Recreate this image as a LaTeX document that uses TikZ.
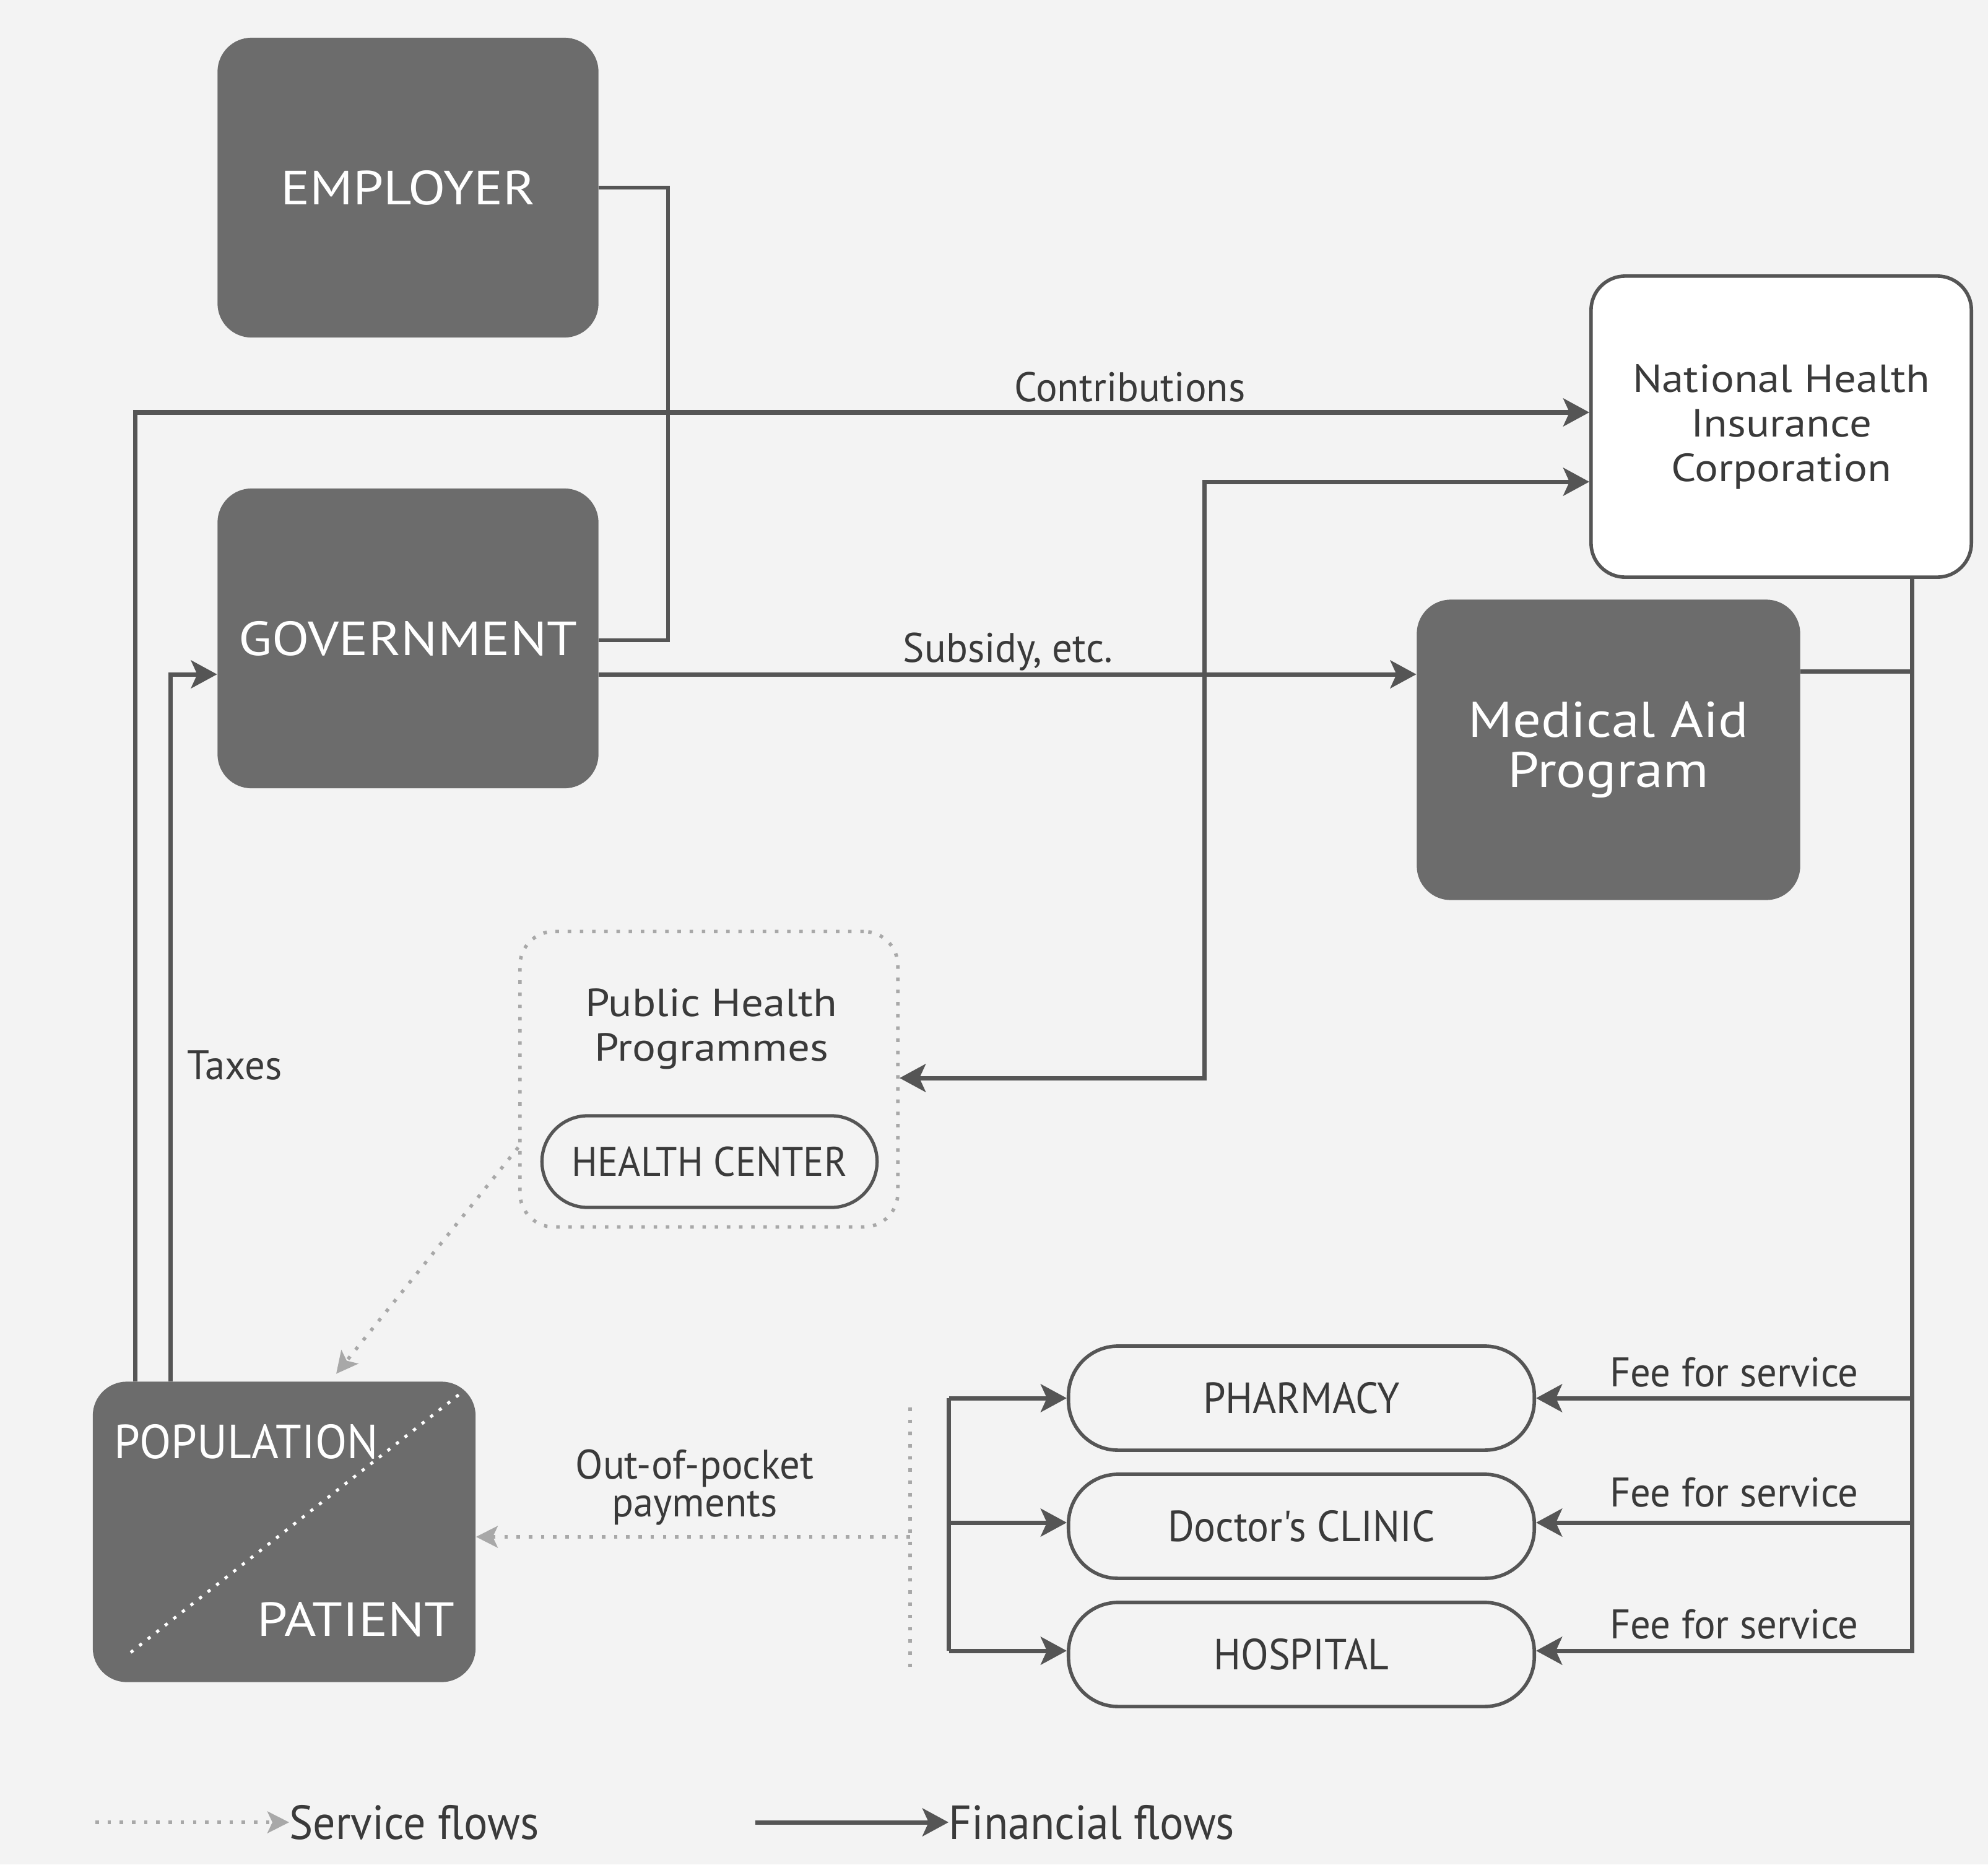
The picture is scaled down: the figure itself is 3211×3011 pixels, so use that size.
\documentclass[tikz,border=0pt]{standalone}
\usepackage{fontspec}
\setmainfont{PT Sans}
\newfontfamily\cf[FakeStretch=0.97]{PT Sans}
\newfontfamily\pf[FakeStretch=0.93]{PT Sans}
\newfontfamily\wf[FakeStretch=1.14]{PT Sans}
\newfontfamily\nf[FakeStretch=1.12]{PT Sans}
\usetikzlibrary{arrows.meta,calc}
\definecolor{bg}{HTML}{F3F3F3}
\definecolor{boxfill}{HTML}{6C6C6C}
\definecolor{ln}{HTML}{555555}
\definecolor{txt}{HTML}{3A3A3A}
\definecolor{svcc}{HTML}{A8A8A8}
\begin{document}
\begin{tikzpicture}[x=0.01cm,y=-0.01cm,
  darkbox/.style={fill=boxfill, rounded corners=0.55cm, minimum width=6.15cm, minimum height=4.84cm, text=white, align=center, inner sep=0pt, font=\wf\fontsize{22}{26}\selectfont},
  whitebox/.style={draw=ln, line width=1.6pt, fill=white, rounded corners=0.55cm, align=center, text=txt, inner sep=0pt},
  provider/.style={draw=ln, line width=1.6pt, rounded corners=0.8cm, minimum width=7.52cm, minimum height=1.68cm, text=txt, inner sep=0pt, font=\pf\fontsize{20}{22}\selectfont},
  lbl/.style={text=txt, inner sep=0pt, font=\cf\fontsize{19}{20}\selectfont, align=center},
  fin/.style={draw=ln, line width=2pt, -{Stealth[length=0.42cm,width=0.45cm,inset=0.1cm]}},
  finboth/.style={draw=ln, line width=2pt, {Stealth[length=0.42cm,width=0.45cm,inset=0.1cm]}-{Stealth[length=0.42cm,width=0.45cm,inset=0.1cm]}},
  plain/.style={draw=ln, line width=2pt},
  svc/.style={draw=svcc, line width=1.6pt, dash pattern=on 1.6pt off 4pt, -{Stealth[length=0.35cm,width=0.35cm,inset=0.08cm]}},
  svcline/.style={draw=svcc, line width=1.6pt, dash pattern=on 1.6pt off 4pt}
]
\fill[bg] (0,0) rectangle (3211,3011);
\useasboundingbox (0,0) rectangle (3211,3011);

% main boxes
\node[darkbox] (emp) at (659,303) {EMPLOYER};
\node[darkbox] (gov) at (659,1031) {GOVERNMENT};
\node[whitebox, minimum width=6.14cm, minimum height=4.86cm, font=\nf\fontsize{18}{20.5}\selectfont] (nhic) at (2877,689) {National Health\\Insurance\\Corporation};
\node[darkbox, minimum width=6.19cm, minimum height=4.85cm, font=\nf\fontsize{23}{23}\selectfont] (mad) at (2598,1211) {Medical Aid\\Program};

% public health programmes
\node[draw=svcc, line width=1.6pt, dash pattern=on 1.6pt off 4pt, rounded corners=0.55cm, minimum width=6.10cm, minimum height=4.77cm] (php) at (1145,1743) {};
\node[lbl, font=\nf\fontsize{18}{20.5}\selectfont] (phpt) at (1149,1662) {Public Health\\Programmes};
\node[draw=ln, line width=1.5pt, rounded corners=0.74cm, minimum width=5.41cm, minimum height=1.48cm, text=txt, inner sep=0pt, font=\pf\fontsize{19}{20}\selectfont] (hc) at (1146,1876) {HEALTH CENTER};

% population
\node[darkbox, minimum width=6.18cm, minimum height=4.85cm] (pop) at (459,2474) {};
\draw[white, line width=1.4pt, dash pattern=on 1.5pt off 3.5pt] ($(pop.south west)!0.1!(pop.north east)$) -- ($(pop.south west)!0.96!(pop.north east)$);
\node[text=white, inner sep=0pt, font=\cf\fontsize{22}{23}\selectfont] (popt) at (398,2328) {POPULATION};
\node[text=white, inner sep=0pt, font=\wf\fontsize{22}{23}\selectfont] (patt) at (575,2615) {PATIENT};

% providers
\node[provider] (pharm) at (2102,2258) {PHARMACY};
\node[provider] (clinic) at (2102,2465) {Doctor's CLINIC};
\node[provider] (hosp) at (2102,2672) {HOSPITAL};

% employer / government bracket
\coordinate (gb) at ([yshift=-0.03cm]gov.east);
\coordinate (brk) at (1079,303);
\draw[plain, line width=1.6pt] (emp.east) -- (brk) |- (gb);

% contributions
\coordinate (cx) at ([xshift=0.69cm]pop.north west);
\coordinate (cn) at ([yshift=0.23cm]nhic.west);
\draw[fin] (cx) |- (cn);
\node[lbl] (contl) at (1825,625) {Contributions};

% NHIC <-> public health programmes
\coordinate (nh2) at ([yshift=-0.89cm]nhic.west);
\coordinate (j2) at (1945,1741);
\draw[finboth] (nh2) -| (j2) -- (php.east |- j2);

% subsidy
\coordinate (gs) at ([yshift=-0.58cm]gov.east);
\draw[fin] (gs) -- (gs -| mad.west);
\node[lbl] (subl) at (1628,1053) {Subsidy, etc.};

% taxes
\coordinate (tx) at ([xshift=1.26cm]pop.north west);
\coordinate (ts) at ([yshift=-0.58cm]gov.west);
\draw[fin] (tx) |- (ts);
\node[lbl] (taxl) at (379,1720) {Taxes};

% trunk from NHIC to providers
\coordinate (tr) at ([xshift=2.11cm]nhic.south);
\coordinate (me) at ([yshift=1.26cm]mad.east);
\draw[plain] (me) -- (me -| tr);
\draw[fin] (tr) |- ([yshift=0.06cm]hosp.east);
\draw[fin] (tr |- pharm.east) -- (pharm.east);
\draw[fin] ([yshift=0.06cm]tr |- clinic.east) -- ([yshift=0.06cm]clinic.east);
\node[lbl] (fee1) at (2801,2216) {Fee for service};
\node[lbl] (fee2) at (2801,2410) {Fee for service};
\node[lbl] (fee3) at (2801,2623) {Fee for service};

% left bracket to providers
\coordinate (lbt) at ([xshift=-1.9cm]pharm.west);
\coordinate (lbb) at ([xshift=-1.9cm,yshift=0.06cm]hosp.west);
\draw[plain] (lbt) -- (lbb);
\draw[fin] (lbt) -- (pharm.west);
\draw[fin] ([yshift=0.06cm]lbt |- clinic.west) -- ([yshift=0.06cm]clinic.west);
\draw[fin] (lbb) -- ([yshift=0.06cm]hosp.west);

% out-of-pocket (service) flow
\coordinate (dvt) at (1470,2273);
\coordinate (dvb) at (1470,2693);
\draw[svcline] (dvt) -- (dvb);
\coordinate (dm) at (1470,2482);
\draw[svc] (dm) -- (dm -| pop.east);
\node[lbl, font=\cf\fontsize{19}{17.5}\selectfont] (oop) at (1122,2402) {Out-of-pocket\\payments};

% public health -> population
\draw[svc] ([yshift=-1.1cm]php.west) -- ([xshift=0.84cm,yshift=0.12cm]pop.north);

% legend
\node[lbl, anchor=west, font=\pf\fontsize{22}{24}\selectfont] (lsv) at (467,2943) {Service flows};
\coordinate (ls0) at (154,2943);
\draw[svc] (ls0) -- (lsv.west);
\node[lbl, anchor=west, font=\pf\fontsize{22}{24}\selectfont] (lfi) at (1532,2943) {Financial flows};
\coordinate (lf0) at (1220,2943);
\draw[fin] (lf0) -- (lfi.west);
\end{tikzpicture}
\end{document}
